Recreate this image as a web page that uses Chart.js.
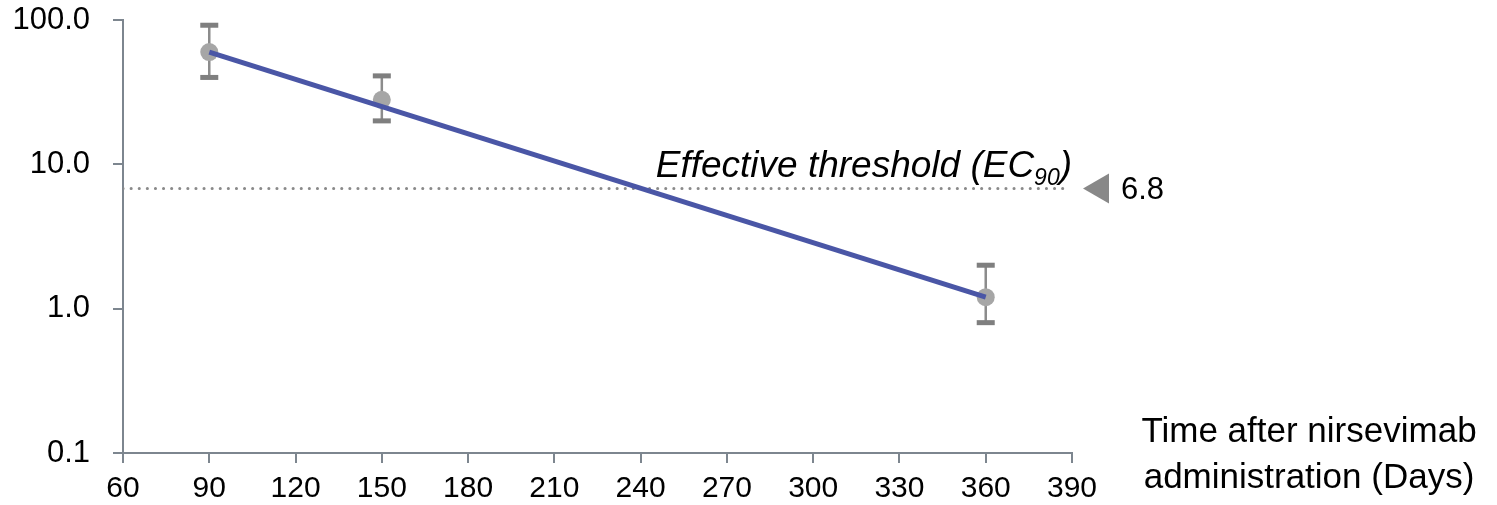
<!DOCTYPE html>
<html>
<head>
<meta charset="utf-8">
<script src="https://cdn.jsdelivr.net/npm/chart.js@4/dist/chart.umd.min.js"></script>
<style>
  html, body { margin: 0; padding: 0; background: #fff; }
  #c { display: block; }
</style>
</head>
<body>
<canvas id="c" width="1497" height="505"></canvas>
<script>
// observed concentrations (days after dose)
const days = [90, 150, 360];
const conc = [60, 28, 1.2];
const errLow = [40, 20, 0.8];
const errHigh = [92, 41, 2.0];

// fitted decline
const fitDays = [90, 360];
const fitConc = [60, 1.2];

// EC90 threshold
const threshold = 6.8;
const thresholdSpan = [60, 389];

const xTicks = [60, 90, 120, 150, 180, 210, 240, 270, 300, 330, 360, 390];
const yTicks = [0.1, 1, 10, 100];

const axisGray = '#7d868f';
const font = 'Liberation Sans, Arial, sans-serif';

// error bars, drawn under the points
const errorBars = {
  id: 'errorBars',
  beforeDatasetsDraw(chart) {
    const ctx = chart.ctx;
    const x = chart.scales.x, y = chart.scales.y;
    ctx.save();
    days.forEach(function(d, i) {
      const px = x.getPixelForValue(d);
      const top = y.getPixelForValue(errHigh[i]);
      const bot = y.getPixelForValue(errLow[i]);
      ctx.strokeStyle = '#8c8c8c';
      ctx.lineWidth = 2.5;
      ctx.beginPath();
      ctx.moveTo(px, top);
      ctx.lineTo(px, bot);
      ctx.stroke();
      ctx.fillStyle = '#7f7f7f';
      ctx.fillRect(px - 9, top - 2.5, 18, 5);
      ctx.fillRect(px - 9, bot - 2.5, 18, 5);
    });
    ctx.restore();
  }
};

// threshold label, marker and axis title
const labels = {
  id: 'labels',
  afterDraw(chart) {
    const ctx = chart.ctx;
    const area = chart.chartArea;
    const ty = chart.scales.y.getPixelForValue(threshold);
    ctx.save();
    ctx.fillStyle = '#000';

    // "Effective threshold (EC90)"
    ctx.font = 'italic 37px ' + font;
    ctx.textBaseline = 'alphabetic';
    ctx.textAlign = 'left';
    const main = 'Effective threshold (EC';
    const sub = '90';
    const close = ')';
    const wMain = ctx.measureText(main).width;
    const wClose = ctx.measureText(close).width;
    ctx.font = 'italic 23px ' + font;
    const wSub = ctx.measureText(sub).width;
    const right = area.right;
    const base = ty - 12;
    let sx = right - (wMain + wSub + wClose);
    ctx.font = 'italic 37px ' + font;
    ctx.fillText(main, sx, base);
    ctx.font = 'italic 23px ' + font;
    ctx.fillText(sub, sx + wMain, base + 8);
    ctx.font = 'italic 37px ' + font;
    ctx.fillText(close, sx + wMain + wSub, base);

    // triangle marker + value
    ctx.fillStyle = '#888888';
    ctx.beginPath();
    ctx.moveTo(area.right + 11, ty);
    ctx.lineTo(area.right + 37, ty - 15);
    ctx.lineTo(area.right + 37, ty + 15);
    ctx.closePath();
    ctx.fill();
    ctx.fillStyle = '#000';
    ctx.font = '31px ' + font;
    ctx.textBaseline = 'middle';
    ctx.fillText(threshold.toFixed(1), area.right + 49, ty + 2);

    // x axis title, at the right of the axis
    ctx.font = '35px ' + font;
    ctx.textAlign = 'center';
    ctx.textBaseline = 'alphabetic';
    ctx.fillText('Time after nirsevimab', 1309, 442);
    ctx.fillText('administration (Days)', 1309, 488);
    ctx.restore();
  }
};

new Chart(document.getElementById('c'), {
  type: 'scatter',
  data: {
    datasets: [
      {
        label: 'Fit',
        type: 'line',
        data: fitDays.map((d, i) => ({ x: d, y: fitConc[i] })),
        borderColor: '#4a56a6',
        borderWidth: 5,
        pointRadius: 0,
        fill: false,
        order: 0
      },
      {
        label: 'Observed',
        data: days.map((d, i) => ({ x: d, y: conc[i] })),
        backgroundColor: '#a6a6a6',
        borderWidth: 0,
        pointRadius: 9,
        order: 1
      },
      {
        label: 'EC90',
        type: 'line',
        data: thresholdSpan.map(d => ({ x: d, y: threshold })),
        borderColor: '#8a8a8a',
        borderWidth: 3,
        borderDash: [0.1, 8],
        borderCapStyle: 'round',
        pointRadius: 0,
        fill: false,
        order: 2
      }
    ]
  },
  options: {
    responsive: false,
    animation: false,
    layout: { padding: { top: 20, right: 425, left: 0, bottom: 0 } },
    plugins: {
      legend: { display: false },
      tooltip: { enabled: false }
    },
    scales: {
      x: {
        type: 'linear',
        min: 60,
        max: 390,
        afterBuildTicks: s => { s.ticks = xTicks.map(v => ({ value: v })); },
        afterFit: s => { s.height = 52; },
        grid: { drawOnChartArea: false, tickLength: 10, color: axisGray, lineWidth: 2 },
        border: { color: axisGray, width: 2 },
        ticks: { color: '#000', font: { family: font, size: 30 }, padding: 8, maxRotation: 0 }
      },
      y: {
        type: 'logarithmic',
        min: 0.1,
        max: 100,
        afterBuildTicks: s => { s.ticks = yTicks.map(v => ({ value: v })); },
        afterFit: s => { s.width = 123; s.paddingTop = 0; s.paddingBottom = 0; },
        grid: { drawOnChartArea: false, tickLength: 10, color: axisGray, lineWidth: 2 },
        border: { color: axisGray, width: 2 },
        ticks: {
          color: '#000',
          font: { family: font, size: 31 },
          padding: 23,
          callback: v => Number(v).toFixed(1)
        }
      }
    }
  },
  plugins: [errorBars, labels]
});
</script>
</body>
</html>
